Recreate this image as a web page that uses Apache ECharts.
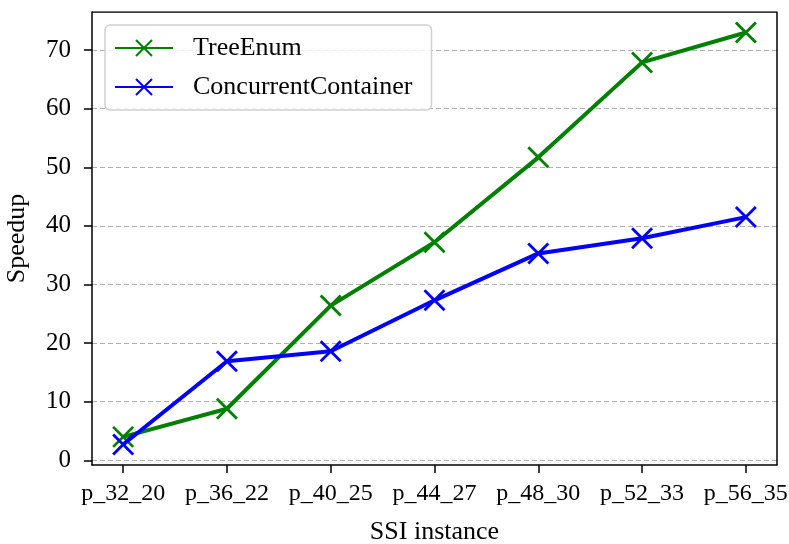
<!DOCTYPE html>
<html>
<head>
<meta charset="utf-8">
<script src="https://cdn.jsdelivr.net/npm/echarts@6/dist/echarts.min.js"></script>
<style>
html,body{margin:0;padding:0;background:#fff;}
#main{width:789px;height:544px;}
</style>
</head>
<body>
<div id="main"></div>
<script>
var categories = ['p_32_20','p_36_22','p_40_25','p_44_27','p_48_30','p_52_33','p_56_35'];
var treeEnum = [4.0, 8.8, 26.4, 37.2, 51.7, 67.9, 73.0];
var concurrent = [2.7, 16.9, 18.6, 27.3, 35.3, 37.9, 41.5];
var yTicks = [0, 10, 20, 30, 40, 50, 60, 70];
var xTicks = [0, 1, 2, 3, 4, 5, 6];

var crossPath = 'path://M0,0L10,10M10,0L0,10';
var font = 'Liberation Serif';

function pairs(arr){
    var out = [];
    for(var i = 0; i < arr.length; i ++){
        out.push([i, arr[i]]);
    }
    return out;
}

var myChart = echarts.init(document.getElementById('main'));
var option = {
    animation: false,
    textStyle: {fontFamily: font},
    grid: {left: 92, right: 12, top: 12, bottom: 79, containLabel: false, outerBoundsMode: 'none'},
    legend: {
        left: 105,
        top: 25,
        orient: 'vertical',
        itemWidth: 58,
        itemHeight: 20,
        itemGap: 13,
        padding: [10, 19, 10, 9],
        borderColor: '#d0d0d0',
        borderWidth: 1.5,
        borderRadius: 5,
        backgroundColor: 'rgba(255,255,255,0.8)',
        textStyle: {fontFamily: font, fontSize: 26, color: '#000', padding: [0, 0, 0, 15]},
        data: ['TreeEnum', 'ConcurrentContainer']
    },
    xAxis: {
        type: 'value',
        min: -0.3,
        max: 6.3,
        name: 'SSI instance',
        nameLocation: 'middle',
        nameGap: 54,
        nameTextStyle: {fontFamily: font, fontSize: 26, color: '#000'},
        axisLine: {onZero: false, lineStyle: {color: '#000', width: 1.5}},
        axisTick: {customValues: xTicks, length: 8, lineStyle: {color: '#000', width: 1.5}},
        axisLabel: {
            customValues: xTicks,
            fontFamily: font, fontSize: 24, color: '#000', margin: 17,
            formatter: function(v){ return categories[Math.round(v)]; }
        },
        splitLine: {show: false}
    },
    yAxis: {
        type: 'value',
        min: -0.8,
        max: 76.5,
        name: 'Speedup',
        nameLocation: 'middle',
        nameGap: 62,
        nameTextStyle: {fontFamily: font, fontSize: 26, color: '#000'},
        axisLine: {show: true, onZero: false, lineStyle: {color: '#000', width: 1.5}},
        axisTick: {show: true, customValues: yTicks, length: 8, lineStyle: {color: '#000', width: 1.5}},
        axisLabel: {customValues: yTicks, fontFamily: font, fontSize: 25, color: '#000', margin: 21},
        splitLine: {show: true, lineStyle: {color: '#b0b0b0', type: [5, 3], width: 1}}
    },
    series: [
        {
            name: 'TreeEnum',
            type: 'line',
            data: pairs(treeEnum),
            symbol: crossPath,
            symbolSize: 20,
            lineStyle: {color: 'green', width: 4},
            itemStyle: {color: 'green', borderColor: 'green', borderWidth: 2.8},
            z: 3
        },
        {
            name: 'ConcurrentContainer',
            type: 'line',
            data: pairs(concurrent),
            symbol: crossPath,
            symbolSize: 20,
            lineStyle: {color: 'blue', width: 4},
            itemStyle: {color: 'blue', borderColor: 'blue', borderWidth: 2.8},
            z: 4
        },
        {
            // plot frame top/right
            type: 'line',
            data: [[-0.3, 76.5], [6.3, 76.5], [6.3, -0.8]],
            symbol: 'none',
            silent: true,
            lineStyle: {color: '#000', width: 1.5},
            z: 1
        }
    ]
};
myChart.setOption(option);
</script>
</body>
</html>
